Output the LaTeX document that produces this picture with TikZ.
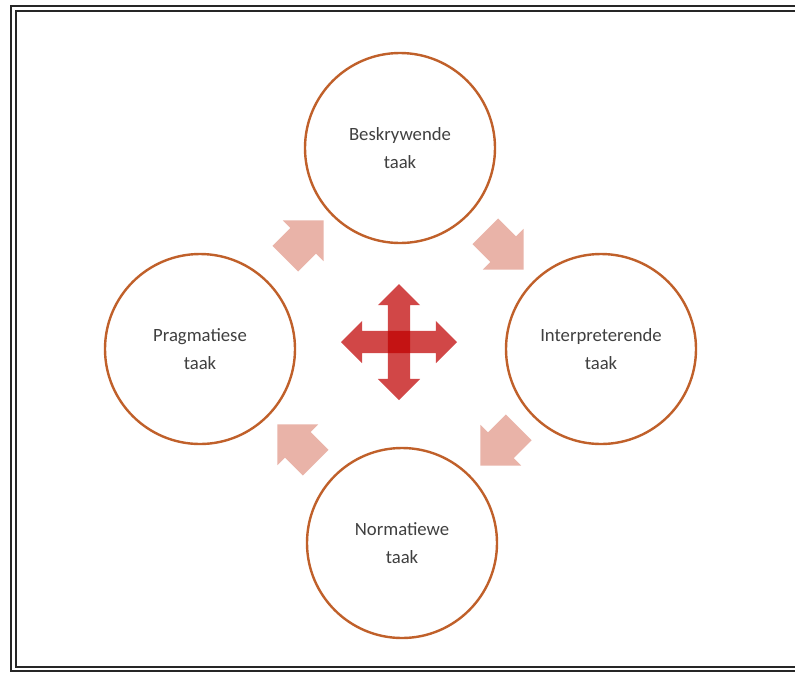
\documentclass[tikz,border=0pt]{standalone}
\usepackage{fontspec}
\setmainfont{Carlito}
\usetikzlibrary{shapes.arrows}
\definecolor{ringc}{HTML}{C0602A}
\definecolor{txtc}{HTML}{404040}
\definecolor{pinkc}{HTML}{E9B3A8}
\definecolor{crossc}{HTML}{C00000}
\tikzset{
  ring/.style={circle, draw=ringc, line width=2.4pt, fill=white, minimum size=190pt, inner sep=0pt,
    text=txtc, align=center, font=\fontsize{18.7}{28}\selectfont},
  flowarrow/.style={single arrow, fill=pinkc, draw=none, minimum height=54pt,
    inner xsep=0pt, inner ysep=18pt, single arrow head extend=10.5pt, single arrow tip angle=90},
  crossarrow/.style={double arrow, fill=crossc, fill opacity=0.72, draw=none, minimum height=116pt,
    inner xsep=0pt, inner ysep=11pt, double arrow head extend=10pt, double arrow tip angle=90},
  frameline/.style={draw=black!85, line width=2pt}
}
\begin{document}
\begin{tikzpicture}[x=1pt,y=-1pt]
\useasboundingbox (0,0) rectangle (795,673);
\clip (0,0) rectangle (795,673);
\fill[white] (0,0) rectangle (795,673);
\draw[frameline] (11,6) rectangle (805,671);
\draw[frameline] (16,11) rectangle (805,667);
\node[ring] (top) at (400,148) {Beskrywende\\taak};
\node[ring] (left) at (200,349) {Pragmatiese\\taak};
\node[ring] (right) at (601,349) {Interpreterende\\taak};
\node[ring] (bottom) at (402,543) {Normatiewe\\taak};
\node[flowarrow, rotate=45] (a1) at (298,246) {};
\node[flowarrow, rotate=-45] (a2) at (498,244) {};
\node[flowarrow, rotate=-135] (a3) at (506,440) {};
\node[flowarrow, rotate=135] (a4) at (303,450) {};
\node[crossarrow] (ch) at (399,342) {};
\node[crossarrow, rotate=90] (cv) at (399,342) {};
\end{tikzpicture}
\end{document}
